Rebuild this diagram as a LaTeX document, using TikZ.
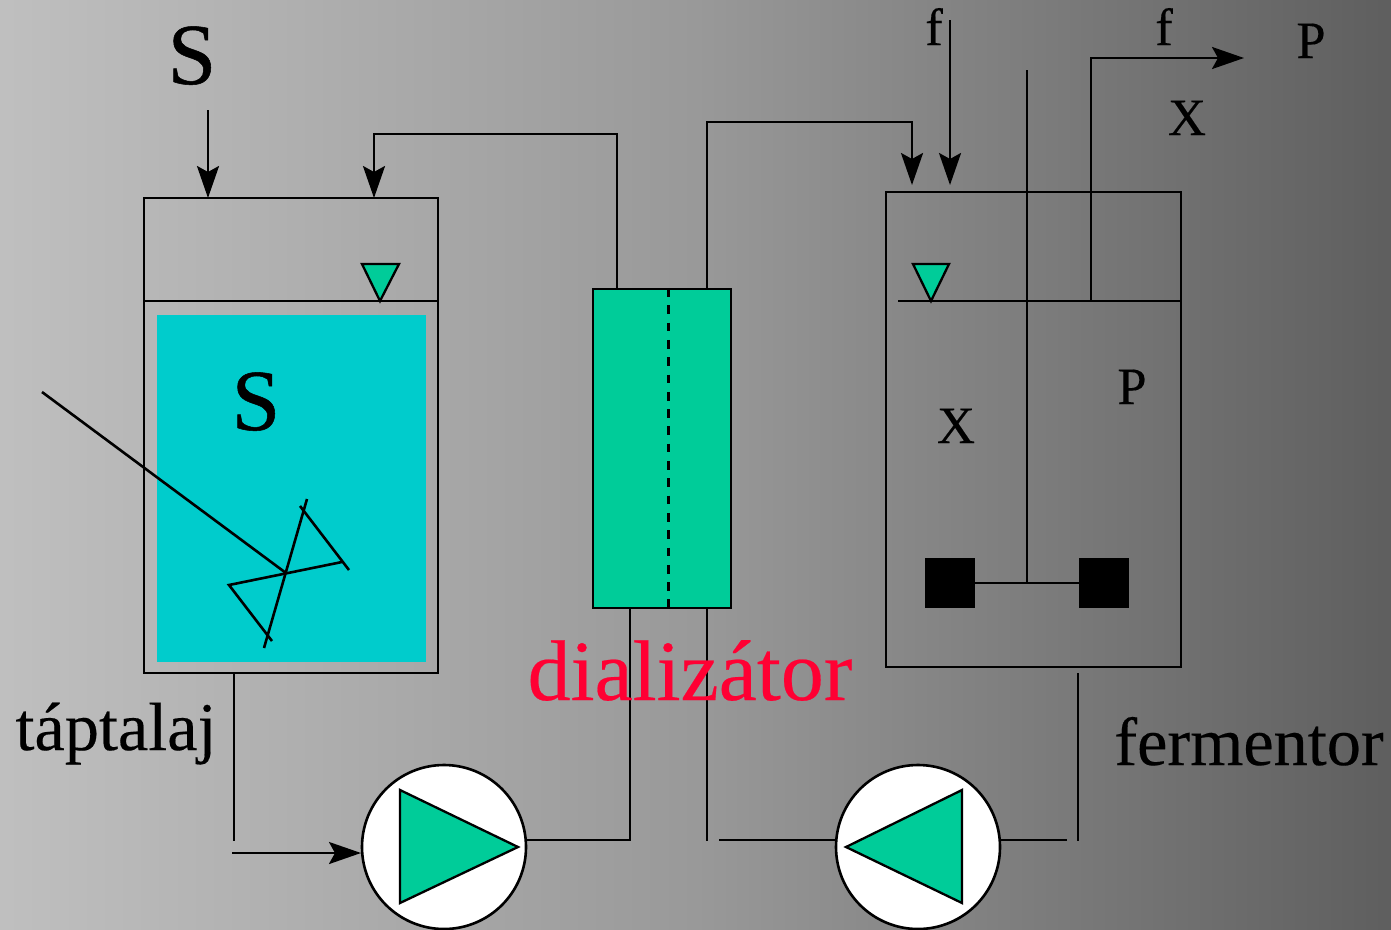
\documentclass[tikz,border=0pt]{standalone}
\usepackage{fontspec}
\setmainfont{Liberation Serif}
\newfontfamily\heavyS[FakeBold=0.6]{Liberation Serif}
\newfontfamily\heavyT[FakeBold=0.25]{Liberation Serif}
\usetikzlibrary{arrows.meta}
\definecolor{tealc}{HTML}{00CC99}
\definecolor{cyanc}{HTML}{00CCCC}
\definecolor{redc}{HTML}{FF0033}
\tikzset{
  ln/.style={line width=2.6pt,black,line cap=butt},
  flow/.style={ln,-{Stealth[length=32pt,width=22pt,inset=6pt]}},
  boxn/.style={draw=black,line width=2.6pt,rectangle,inner sep=0pt,outer sep=0pt},
  pumpn/.style={draw=black,fill=white,line width=2.6pt,circle,inner sep=0pt,outer sep=0pt,minimum size=164pt},
  tri/.style={draw=black,fill=tealc,line width=2.3pt,line join=miter},
  lab/.style={anchor=base,inner sep=0pt,outer sep=0pt},
  biglab/.style={lab,font=\heavyS\fontsize{87}{87}\selectfont},
  midlab/.style={lab,font=\heavyT\fontsize{52.5}{53}\selectfont},
  caplab/.style={lab,font=\heavyT\fontsize{68.3}{69}\selectfont},
}
\begin{document}
\begin{tikzpicture}[x=1pt,y=-1pt]
\path[use as bounding box,left color=black!25,right color=black!63,middle color=black!40] (0,0) rectangle (1391,929);
% tanks and apparatus
\node[fill=cyanc,minimum width=269pt,minimum height=347pt,inner sep=0pt] (liquid) at (291.5,488.5) {};
\node[boxn,minimum width=294pt,minimum height=475pt] (tank) at (291,435.5) {};
\node[boxn,fill=tealc,minimum width=138pt,minimum height=319pt] (dial) at (662,448.5) {};
\node[boxn,minimum width=295pt,minimum height=475pt] (ferm) at (1033.5,429.5) {};
\node[pumpn] (pumpA) at (444,847) {};
\node[pumpn] (pumpB) at (918,847) {};
\node[fill=black,minimum size=50pt,inner sep=0pt] (padL) at (950,583) {};
\node[fill=black,minimum size=50pt,inner sep=0pt] (padR) at (1104,583) {};
% named free ends
\coordinate (tl) at (144,301); \coordinate (tr) at (438,301);
\coordinate (fl) at (898,301); \coordinate (fr) at (1181,301);
\coordinate (dt) at (668.5,288); \coordinate (db) at (668.5,608);
\coordinate (sIn0) at (208,110); \coordinate (sIn1) at (208,198);
\coordinate (retA) at (617,289); \coordinate (retB) at (374,134); \coordinate (retC) at (374,198);
\coordinate (feedA) at (707,289); \coordinate (feedB) at (912,122); \coordinate (feedC) at (912,185);
\coordinate (f0) at (950,20); \coordinate (f1) at (950,185);
\coordinate (shaft0) at (1027,70); \coordinate (shaft1) at (1027,583);
\coordinate (outA) at (1091,301); \coordinate (outB) at (1091,58); \coordinate (outC) at (1244,58);
\coordinate (botA0) at (234,673); \coordinate (botA1) at (234,841);
\coordinate (inA0) at (232,853); \coordinate (inA1) at (361,853);
\coordinate (pa) at (527,840); \coordinate (pb) at (630,608); \coordinate (pc) at (630,840);
\coordinate (qa) at (707,608); \coordinate (qb) at (707,841);
\coordinate (ra) at (719,840); \coordinate (rb) at (836,840);
\coordinate (sa) at (1000,840); \coordinate (sb) at (1067,840);
\coordinate (ta) at (1078,673); \coordinate (tb) at (1078,841);
\coordinate (mixHub) at (286,573); \coordinate (mixTop) at (42,392);
% level lines, membrane
\draw[ln] (tl) -- (tr);
\draw[ln] (fl) -- (fr);
\draw[line width=3pt,black,dash pattern=on 8.7pt off 8.6pt] (dt) -- (db);
% level markers
\draw[tri] (362,264) -- (399,264) -- (380,301) -- cycle;
\draw[tri] (913,264) -- (949,264) -- (931,301) -- cycle;
% pump triangles
\draw[tri] (400,790) -- (400,903) -- (518,847) -- cycle;
\draw[tri] (962,790) -- (962,903) -- (846,847) -- cycle;
% connectors
\draw[flow] (sIn0) -- (sIn1);
\draw[flow] (retA) |- (retB) -- (retC);
\draw[flow] (feedA) |- (feedB) -- (feedC);
\draw[flow] (f0) -- (f1);
\draw[ln] (shaft0) -- (shaft1);
\draw[ln] (padL) -- (padR);
\draw[flow] (outA) -- (outB) -- (outC);
\draw[ln] (botA0) -- (botA1);
\draw[flow] (inA0) -- (inA1);
\draw[ln] (pa) -- (pc) -- (pb);
\draw[ln] (qa) -- (qb);
\draw[ln] (ra) -- (rb);
\draw[ln] (sa) -- (sb);
\draw[ln] (ta) -- (tb);
% mixer
\draw[ln] (mixTop) -- (mixHub);
\draw[ln] (307,499) -- (264,648);
\draw[ln,line join=miter] (272,641) -- (229,585) -- (342,562);
\draw[ln] (300,506) -- (349,570);
% labels
\node[biglab] (S1) at (192,84) {S};
\node[biglab] (S2) at (256,430) {S};
\node[midlab] (f1t) at (934,45) {f};
\node[midlab] (f2t) at (1164,45) {f};
\node[midlab] (P1) at (1311,58) {P};
\node[midlab] (X1) at (1187,135) {X};
\node[midlab] (P2) at (1132,404) {P};
\node[midlab] (X2) at (956,443) {X};
\node[caplab] (tap) at (116,750) {táptalaj};
\node[caplab] (fer) at (1249,765) {fermentor};
\node[lab,font=\heavyT\fontsize{86}{86}\selectfont,text=redc] (dia) at (690,700) {dializátor};
\end{tikzpicture}
\end{document}
